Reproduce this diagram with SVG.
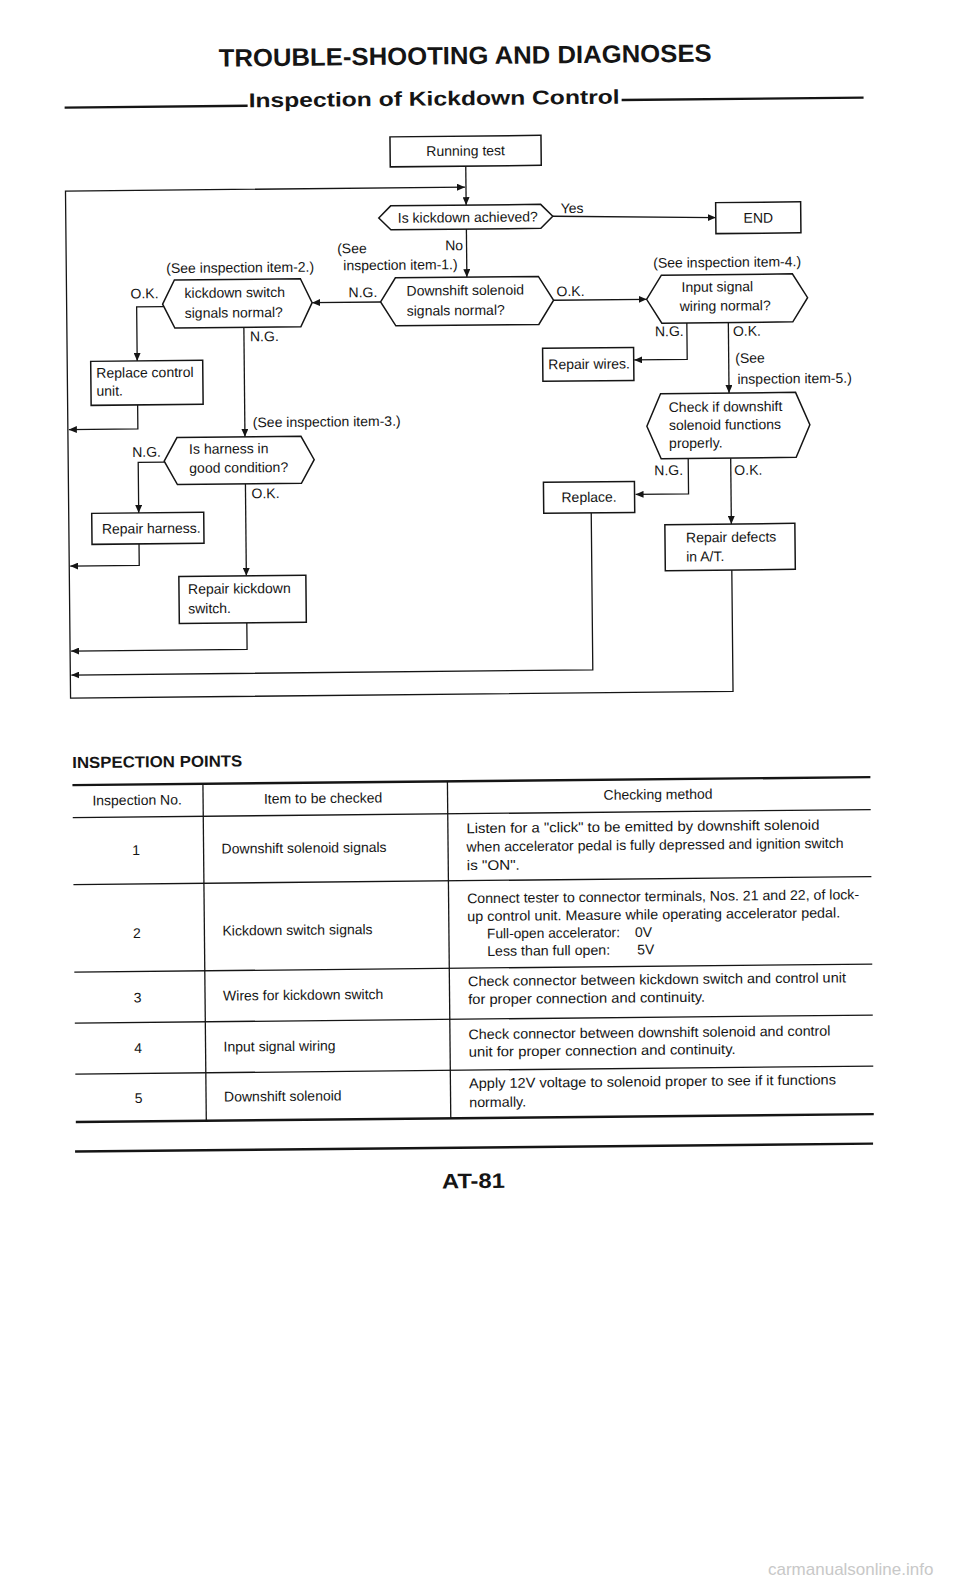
<svg xmlns="http://www.w3.org/2000/svg" width="960" height="1581" viewBox="0 0 960 1581">
<style>
.box{fill:#fff;stroke:#151515;stroke-width:1.5}
.con{fill:none;stroke:#151515;stroke-width:1.3}
.t{font-family:"Liberation Sans",Arial,sans-serif;font-size:14px;fill:#151515}
.m{text-anchor:middle}
.b{font-weight:bold}
.h1{font-size:25px}
.h2{font-size:20px}
.h3{font-size:16px}
.h4{font-size:21px}
.wm{font-size:17px;fill:#c8c8c8}
.rule{stroke:#151515;stroke-width:2.4}
.thin{stroke:#151515;stroke-width:1.3}
</style>
<defs>
<marker id="ah" markerWidth="8" markerHeight="7" refX="8" refY="3.5" orient="auto" markerUnits="userSpaceOnUse"><path d="M0,0 L8,3.5 L0,7 z" fill="#151515"/></marker>
</defs>
<rect width="960" height="1581" fill="#fff"/>
<g transform="rotate(-0.573 480 640)">
<g id="header">
<text class="t b m h1" x="471" y="64" textLength="493" lengthAdjust="spacingAndGlyphs">TROUBLE-SHOOTING AND DIAGNOSES</text>
<line class="rule" x1="70" y1="103.5" x2="253" y2="103.5"/>
<text class="t b h2" x="254" y="105" textLength="371" lengthAdjust="spacingAndGlyphs">Inspection of Kickdown Control</text>
<line class="rule" x1="627" y1="101.5" x2="869" y2="101.5"/>
</g>
<g id="connectors">
<path class="con" d="M470.5,166 V205" marker-end="url(#ah)"/>
<path class="con" d="M732.5,572.5 V694 H70 V187 H469.5" marker-end="url(#ah)"/>
<path class="con" d="M557,217 L720,220" marker-end="url(#ah)"/>
<path class="con" d="M470.5,229 V277" marker-end="url(#ah)"/>
<path class="con" d="M384,301 H315.5" marker-end="url(#ah)"/>
<path class="con" d="M557,301 H650" marker-end="url(#ah)"/>
<path class="con" d="M167,303.5 H140 V357.5" marker-end="url(#ah)"/>
<path class="con" d="M140,401.5 V425.5 H71" marker-end="url(#ah)"/>
<path class="con" d="M247,325 V434.5" marker-end="url(#ah)"/>
<path class="con" d="M166.5,459 H140 V509.5" marker-end="url(#ah)"/>
<path class="con" d="M140,540.5 V562 H71" marker-end="url(#ah)"/>
<path class="con" d="M247,481.5 V573.5" marker-end="url(#ah)"/>
<path class="con" d="M247,620.5 V647 H71" marker-end="url(#ah)"/>
<path class="con" d="M690,325 V361.5 H637" marker-end="url(#ah)"/>
<path class="con" d="M731.5,325 V395.5" marker-end="url(#ah)"/>
<path class="con" d="M690,460.5 V496 H637" marker-end="url(#ah)"/>
<path class="con" d="M732.5,460.5 V526.5" marker-end="url(#ah)"/>
<path class="con" d="M592.5,514 V671 H71" marker-end="url(#ah)"/>
<g id="labels">
<text class="t" x="565" y="214">Yes</text>
<text class="t" x="467" y="250" text-anchor="end">No</text>
<text class="t" x="341" y="252">(See</text>
<text class="t" x="347" y="269">inspection item-1.)</text>
<text class="t" x="170" y="270">(See inspection item-2.)</text>
<text class="t" x="657" y="269.5">(See inspection item-4.)</text>
<text class="t" x="352" y="296">N.G.</text>
<text class="t" x="560" y="297">O.K.</text>
<text class="t" x="134" y="295">O.K.</text>
<text class="t" x="253" y="339">N.G.</text>
<text class="t" x="255" y="425">(See inspection item-3.)</text>
<text class="t" x="134" y="453.5">N.G.</text>
<text class="t" x="253" y="496">O.K.</text>
<text class="t" x="658" y="338">N.G.</text>
<text class="t" x="736" y="338.5">O.K.</text>
<text class="t" x="738" y="365.5">(See</text>
<text class="t" x="740" y="386.5">inspection item-5.)</text>
<text class="t" x="656" y="477">N.G.</text>
<text class="t" x="736" y="477.5">O.K.</text>
</g>
</g>
<g id="n-running">
<rect class="box" x="395" y="136" width="151" height="30"/>
<text class="t m" x="470.5" y="155.5">Running test</text>
</g>
<g id="n-kickdown">
<polygon class="box" points="383,217 395,205 545,205 557,217 545,229 395,229"/>
<text class="t m" x="472" y="222">Is kickdown achieved?</text>
</g>
<g id="n-end">
<rect class="box" x="720" y="205" width="85" height="31"/>
<text class="t m" x="762.5" y="225.5">END</text>
</g>
<g id="n-downshift">
<polygon class="box" points="384,301 399,277 542,277 557,301 542,325 399,325"/>
<text class="t" x="410" y="295">Downshift solenoid</text>
<text class="t" x="410" y="315">signals normal?</text>
</g>
<g id="n-kdswitch">
<polygon class="box" points="166,301 178,277 304,277 315.5,301 304,325 178,325"/>
<text class="t" x="188" y="295">kickdown switch</text>
<text class="t" x="188" y="315">signals normal?</text>
</g>
<g id="n-input">
<polygon class="box" points="650,301 665,277 796,277 811,301 796,325 665,325"/>
<text class="t" x="685" y="294">Input signal</text>
<text class="t" x="683" y="313">wiring normal?</text>
</g>
<g id="n-replace-cu">
<rect class="box" x="93.5" y="357.5" width="112" height="44"/>
<text class="t" x="99" y="374">Replace control</text>
<text class="t" x="99" y="392">unit.</text>
</g>
<g id="n-harness">
<polygon class="box" points="166,458 179,434.5 303,434.5 316,458 303,481.5 179,481.5"/>
<text class="t" x="191" y="451">Is harness in</text>
<text class="t" x="191" y="470">good condition?</text>
</g>
<g id="n-repair-harness">
<rect class="box" x="93" y="509.5" width="112" height="31"/>
<text class="t" x="103" y="530">Repair harness.</text>
</g>
<g id="n-repair-kd">
<rect class="box" x="179.5" y="573.5" width="127" height="47"/>
<text class="t" x="188.5" y="591">Repair kickdown</text>
<text class="t" x="188.5" y="610.5">switch.</text>
</g>
<g id="n-repair-wires">
<rect class="box" x="545.5" y="349" width="91" height="33"/>
<text class="t" x="551" y="370">Repair wires.</text>
</g>
<g id="n-check">
<polygon class="box" points="649,428 663,395.5 798,395.5 812,428 798,460.5 663,460.5"/>
<text class="t" x="671" y="414">Check if downshift</text>
<text class="t" x="671" y="432">solenoid functions</text>
<text class="t" x="671" y="450">properly.</text>
</g>
<g id="n-replace">
<rect class="box" x="545" y="483" width="91" height="31"/>
<text class="t m" x="590.5" y="503">Replace.</text>
</g>
<g id="n-repair-defects">
<rect class="box" x="666" y="526.5" width="130" height="46"/>
<text class="t" x="687" y="544.5">Repair defects</text>
<text class="t" x="687" y="563.5">in A/T.</text>
</g>
<g id="table">
<text class="t b h3" x="71" y="764" textLength="170" lengthAdjust="spacingAndGlyphs">INSPECTION POINTS</text>
<line class="rule" x1="71" y1="781" x2="869" y2="781"/>
<line class="thin" x1="71" y1="813.5" x2="869" y2="813.5"/>
<line class="thin" x1="71" y1="880.5" x2="869" y2="880.5"/>
<line class="thin" x1="71" y1="968" x2="869" y2="968"/>
<line class="thin" x1="71" y1="1019" x2="869" y2="1019"/>
<line class="thin" x1="71" y1="1070" x2="869" y2="1070"/>
<line class="rule" x1="71" y1="1118" x2="869" y2="1118"/>
<line class="thin" x1="201.5" y1="781" x2="201.5" y2="1118"/>
<line class="thin" x1="446" y1="781" x2="446" y2="1118"/>
<text class="t m" x="135.5" y="801.5">Inspection No.</text>
<text class="t m" x="321.5" y="801.5">Item to be checked</text>
<text class="t m" x="656.5" y="801">Checking method</text>
<text class="t m" x="134" y="851.5">1</text>
<text class="t" x="219.5" y="851">Downshift solenoid signals</text>
<text class="t" x="464.5" y="833" textLength="353" lengthAdjust="spacingAndGlyphs">Listen for a "click" to be emitted by downshift solenoid</text>
<text class="t" x="464.5" y="851.5" textLength="377" lengthAdjust="spacingAndGlyphs">when accelerator pedal is fully depressed and ignition switch</text>
<text class="t" x="464.5" y="870" textLength="53" lengthAdjust="spacingAndGlyphs">is "ON".</text>
<text class="t m" x="134" y="934.5">2</text>
<text class="t" x="219.5" y="933">Kickdown switch signals</text>
<text class="t" x="464.5" y="903" textLength="392" lengthAdjust="spacingAndGlyphs">Connect tester to connector terminals, Nos. 21 and 22, of lock-</text>
<text class="t" x="464.5" y="921" textLength="373" lengthAdjust="spacingAndGlyphs">up control unit.  Measure while operating accelerator pedal.</text>
<text class="t" x="484" y="938.5" textLength="133" lengthAdjust="spacingAndGlyphs">Full-open accelerator:</text>
<text class="t" x="632" y="938.5">0V</text>
<text class="t" x="484" y="956" textLength="123" lengthAdjust="spacingAndGlyphs">Less than full open:</text>
<text class="t" x="634" y="956">5V</text>
<text class="t m" x="134" y="999">3</text>
<text class="t" x="219.5" y="998">Wires for kickdown switch</text>
<text class="t" x="464.5" y="986" textLength="378" lengthAdjust="spacingAndGlyphs">Check connector between kickdown switch and control unit</text>
<text class="t" x="464.5" y="1004" textLength="237" lengthAdjust="spacingAndGlyphs">for proper connection and continuity.</text>
<text class="t m" x="134" y="1049.5">4</text>
<text class="t" x="219.5" y="1049">Input signal wiring</text>
<text class="t" x="464.5" y="1039" textLength="362" lengthAdjust="spacingAndGlyphs">Check connector between downshift solenoid and control</text>
<text class="t" x="464.5" y="1056.5" textLength="267" lengthAdjust="spacingAndGlyphs">unit for proper connection and continuity.</text>
<text class="t m" x="134" y="1099.5">5</text>
<text class="t" x="219.5" y="1099">Downshift solenoid</text>
<text class="t" x="464.5" y="1088" textLength="367" lengthAdjust="spacingAndGlyphs">Apply 12V voltage to solenoid proper to see if it functions</text>
<text class="t" x="464.5" y="1107" textLength="57" lengthAdjust="spacingAndGlyphs">normally.</text>
<line class="rule" x1="70" y1="1147.5" x2="868" y2="1147.5"/>
</g>
<g id="footer">
<text class="t b h4" x="436.5" y="1188" textLength="63" lengthAdjust="spacingAndGlyphs">AT-81</text>
</g>
</g>
<text class="t wm" x="768" y="1575">carmanualsonline.info</text>
</svg>
